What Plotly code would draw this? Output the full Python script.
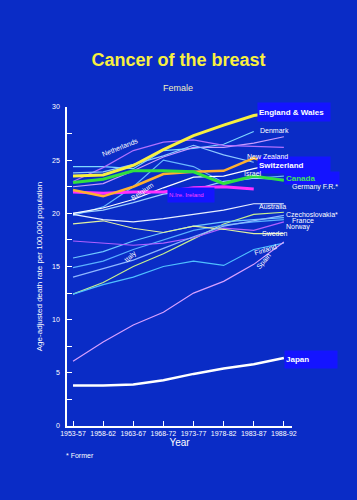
import plotly.graph_objects as go

periods = ["1953-57", "1958-62", "1963-67", "1968-72", "1973-77", "1978-82", "1983-87", "1988-92"]

england_wales = [23.5, 23.6, 24.5, 26.0, 27.3, 28.3, 29.2, 29.6]
denmark = [24.4, 24.4, 24.2, 25.9, 26.1, 26.5, 27.7, None]
ireland = [22.5, 22.8, 24.0, 25.3, 26.2, 26.2, 26.6, 27.2]
netherlands = [23.0, 24.3, 25.9, 26.7, 26.9, 26.4, 26.3, 26.2]
new_zealand = [23.8, 23.9, 24.6, 25.4, 26.4, 25.5, 24.8, None]
switzerland = [22.2, 21.6, 22.5, 23.7, 23.9, 24.0, 25.2, 24.3]
canada = [22.9, 23.2, 24.0, 24.0, 23.9, 22.8, 23.5, 23.1]
israel = [19.8, 20.6, 22.5, 25.0, 24.4, 22.9, 23.3, 23.5]
germany_fr = [20.0, 20.3, 21.0, 21.8, 22.2, 23.0, 23.3, 23.2]
n_ireland = [22.0, 21.9, 22.0, 22.0, 22.4, 22.5, 22.3, None]
belgium = [20.0, 20.5, 21.3, 22.4, 23.4, 23.5, 24.2, 24.8]
australia = [19.9, 19.4, 19.2, 19.5, 19.9, 20.3, 20.9, 20.9]
czechoslovakia = [12.4, 13.5, 15.0, 16.2, 17.6, 19.0, 19.9, 20.1]
france = [15.8, 16.4, 17.4, 18.2, 18.8, 19.2, 19.4, 19.6]
austria = [14.9, 15.5, 16.6, 17.5, 18.4, 18.9, 19.2, 19.4]
norway = [17.4, 17.2, 17.0, 17.2, 17.7, 18.6, 18.4, 19.2]
sweden = [19.0, 19.3, 18.6, 18.2, 18.8, 18.5, 18.1, 18.1]
italy = [14.0, 14.8, 15.6, 16.7, 17.8, 18.8, 19.3, 19.8]
finland = [12.4, 13.3, 14.0, 15.0, 15.5, 15.1, 16.6, 17.2]
spain = [6.1, 7.9, 9.5, 10.7, 12.5, 13.6, 15.2, 17.3]
japan = [3.8, 3.8, 3.9, 4.3, 4.9, 5.4, 5.8, 6.4]

series = [
    ("Denmark", denmark, "#7fd8ff", 1.2),
    ("Ireland", ireland, "#c89cff", 1.2),
    ("Netherlands", netherlands, "#b070ff", 1.2),
    ("New Zealand", new_zealand, "#8ec8ff", 1.2),
    ("Israel", israel, "#6ab8ff", 1.2),
    ("Germany F.R.", germany_fr, "#9fd0ff", 1.2),
    ("Belgium", belgium, "#ffffff", 1.2),
    ("Australia", australia, "#e8f0ff", 1.2),
    ("Czechoslovakia", czechoslovakia, "#c8f090", 1.2),
    ("France", france, "#70c8ff", 1.2),
    ("Austria", austria, "#5ab0ff", 1.2),
    ("Norway", norway, "#b060ff", 1.2),
    ("Sweden", sweden, "#e0f0a0", 1.2),
    ("Italy", italy, "#8fb8ff", 1.2),
    ("Finland", finland, "#50c0ff", 1.2),
    ("Spain", spain, "#d8a0ff", 1.2),
    ("N. Ireland", n_ireland, "#ff30ff", 3),
    ("Switzerland", switzerland, "#ffb030", 2.5),
    ("Canada", canada, "#30e040", 3),
    ("England & Wales", england_wales, "#f8f040", 3),
    ("Japan", japan, "#ffffff", 2.5),
]

xs = list(range(len(periods)))
fig = go.Figure()
for name, vals, col, w in series:
    fig.add_trace(go.Scatter(x=xs, y=vals, mode="lines", name=name,
                             line=dict(color=col, width=w), showlegend=False))

BG = "#0a2cc6"
BOX = "#1414ff"
font_main = "Liberation Sans, Arial, sans-serif"

ann = []
def lab(x, y, text, color="white", size=7, angle=0, bg=None, w=None, h=None, bold=False, xanchor="left"):
    ann.append(dict(x=x, y=y, xref="x", yref="y", text=("<b>%s</b>" % text) if bold else text,
                    showarrow=False, textangle=angle, xanchor=xanchor,
                    font=dict(color=color, size=size, family=font_main),
                    bgcolor=bg, width=w, height=h, align="left"))

lab(6.1, 29.5, "England & Wales", bg=BOX, w=70, h=16, bold=True, size=8)
lab(6.1, 24.5, "Switzerland", bg=BOX, w=70, h=14, bold=True, size=8)
lab(7.0, 23.35, "Canada", color="#40e060", bg=BOX, w=52, h=10, bold=True, size=8)
lab(7.0, 6.3, "Japan", bg=BOX, w=50, h=15, bold=True, size=8)
lab(3.12, 21.7, "N.Ire. Ireland", color="#ff40ff", bg=BOX, w=44, h=12, size=6)
lab(6.15, 27.8, "Denmark")
lab(7.3, 27.3, "Ireland")
lab(5.7, 25.3, "New Zealand")
lab(5.6, 23.7, "Israel")
lab(7.2, 22.5, "Germany F.R.*")
lab(6.1, 20.6, "Australia")
lab(7.0, 19.9, "Czechoslovakia*")
lab(7.2, 19.3, "France")
lab(7.0, 18.7, "Norway")
lab(6.2, 18.1, "Sweden")
lab(1.55, 26.2, "Netherlands", angle=-22, xanchor="center")
lab(2.3, 22.0, "Belgium", angle=-35, xanchor="center")
lab(1.9, 15.9, "Italy", angle=-45, xanchor="center")
lab(6.4, 16.6, "Finland", angle=-18, xanchor="center")
lab(6.35, 15.5, "Spain", angle=-50, xanchor="center")

# plot area: x 67..292 px, y 107..426 px
def px(xp):
    return (xp - 67) / 225.0
def py(yp):
    return (426 - yp) / 319.0

fig.update_layout(
    width=357, height=500,
    margin=dict(l=67, r=65, t=107, b=74, autoexpand=False),
    paper_bgcolor=BG, plot_bgcolor=BG,
    font=dict(family=font_main, color="white"),
    title=dict(text="<b>Cancer of the breast</b>", x=0.5, xanchor="center", y=1 - 60 / 500,
               yanchor="middle", font=dict(color="#f8f040", size=18, family=font_main)),
    annotations=ann + [
        dict(x=px(178), y=py(88), xref="paper", yref="paper", text="Female",
             showarrow=False, font=dict(color="#f0f0c0", size=9, family=font_main), yanchor="middle"),
        dict(x=px(64), y=py(455), xref="paper", yref="paper", text="* Former",
             showarrow=False, xanchor="left", font=dict(color="white", size=7, family=font_main), yanchor="middle"),
    ],
    xaxis=dict(range=[-0.2, 7.27], tickmode="array", tickvals=xs, ticktext=periods,
               showgrid=False, zeroline=False, showline=True, linecolor="white", linewidth=1.5,
               ticks="inside", ticklen=5, tickcolor="white",
               tickfont=dict(size=7, color="white"),
               title=dict(text="Year", font=dict(size=10, color="white"), standoff=2)),
    yaxis=dict(range=[0, 30], dtick=5, showgrid=False, zeroline=False, showline=True,
               linecolor="white", linewidth=1.5, ticks="inside", ticklen=5, tickcolor="white",
               minor=dict(dtick=2.5, ticks="inside", ticklen=5, tickcolor="white"),
               tickfont=dict(size=7, color="white"), ticklabelstandoff=4,
               title=dict(text="Age-adjusted death rate per 100,000 population",
                          font=dict(size=8, color="white"), standoff=8)),
)

fig.write_html("out.html", config={"displayModeBar": False},
               post_script="document.body.style.margin='0';document.body.style.padding='0';document.body.style.background='%s';" % BG)
